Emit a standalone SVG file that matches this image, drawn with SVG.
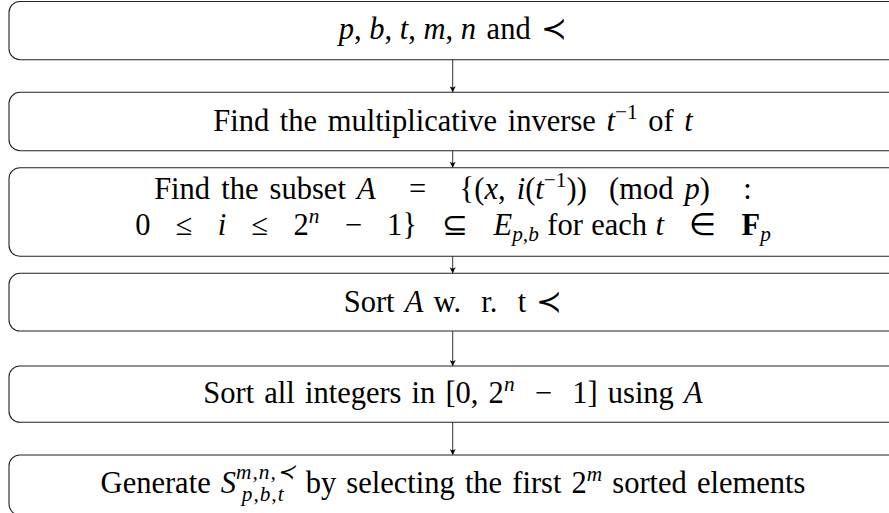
<svg xmlns="http://www.w3.org/2000/svg" width="889" height="513" viewBox="0 0 889 513">
<defs>
<marker id="ah" viewBox="0 0 10 10" refX="10" refY="5" markerWidth="6" markerHeight="6" markerUnits="userSpaceOnUse" orient="auto">
<path d="M0,0 L10,5 L0,10 L2.5,5 Z" fill="#000"/>
</marker>
<style>
.box{fill:#fff;stroke:#222;stroke-width:1.1}
.t{font-family:"Liberation Serif","Times New Roman",serif;font-size:30.5px;fill:#000;text-anchor:middle;white-space:pre}
.i{font-style:italic}
.b{font-weight:bold}
.s{font-size:21.3px}
.con{stroke:#333;stroke-width:1;fill:none}
</style>
</defs>
<rect width="889" height="513" fill="#fff"/>
<g id="connectors">
<line class="con" x1="452.7" y1="59.7" x2="452.7" y2="92.3" marker-end="url(#ah)"/>
<line class="con" x1="452.7" y1="150.7" x2="452.7" y2="167.7" marker-end="url(#ah)"/>
<line class="con" x1="452.7" y1="256.3" x2="452.7" y2="273.3" marker-end="url(#ah)"/>
<line class="con" x1="452.7" y1="331" x2="452.7" y2="366" marker-end="url(#ah)"/>
<line class="con" x1="452.7" y1="422.3" x2="452.7" y2="455" marker-end="url(#ah)"/>
</g>
<g id="n1">
<rect class="box" x="9" y="1.5" width="920" height="58.2" rx="11"/>
<text class="t" x="453" y="39"><tspan class="i">p</tspan>, <tspan class="i">b</tspan>, <tspan class="i">t</tspan>, <tspan class="i">m</tspan>, <tspan class="i">n</tspan><tspan style="word-spacing:3px"> and ≺</tspan></text>
</g>
<g id="n2">
<rect class="box" x="9" y="92.3" width="920" height="58.4" rx="11"/>
<text class="t" x="453" y="131" style="word-spacing:3px">Find the multiplicative inverse <tspan class="i">t</tspan><tspan class="s" dy="-12">−1</tspan><tspan dy="12"> of </tspan><tspan class="i">t</tspan></text>
</g>
<g id="n3">
<rect class="box" x="9" y="167.7" width="920" height="88.6" rx="11"/>
<text class="t" x="453" y="199" style="word-spacing:3.5px">Find the subset <tspan class="i">A</tspan>   =   {(<tspan class="i">x</tspan>, <tspan class="i">i</tspan>(<tspan class="i">t</tspan><tspan class="s" dy="-12">−1</tspan><tspan dy="12">))  (mod </tspan><tspan class="i">p</tspan>)   :</text>
<text class="t" x="453" y="235" style="word-spacing:0.8px">0   ≤   <tspan class="i">i</tspan>   ≤   2<tspan class="s i" dy="-12">n</tspan><tspan dy="12">   −   1}   ⊆   </tspan><tspan class="i">E</tspan><tspan class="s i" dy="6">p,b</tspan><tspan dy="-6"> for each </tspan><tspan class="i">t</tspan>   ∈   <tspan class="b">F</tspan><tspan class="s i" dy="6">p</tspan></text>
</g>
<g id="n4">
<rect class="box" x="9" y="273.3" width="920" height="57.7" rx="11"/>
<text class="t" x="453" y="312" style="word-spacing:2.5px">Sort <tspan class="i">A</tspan> w.  r.  t ≺</text>
</g>
<g id="n5">
<rect class="box" x="9" y="366" width="920" height="56.3" rx="11"/>
<text class="t" x="453" y="403" style="word-spacing:2.5px">Sort all integers in [0, 2<tspan class="s i" dy="-12">n</tspan><tspan dy="12">  −  1] using </tspan><tspan class="i">A</tspan></text>
</g>
<g id="n6">
<rect class="box" x="9" y="455" width="920" height="60" rx="11"/>
<text class="t" x="453" y="493" style="word-spacing:2.5px">Generate <tspan class="i">S</tspan><tspan class="s i" dy="-14" style="letter-spacing:1px">m,n,≺</tspan><tspan class="s i" dx="-54" dy="22" style="letter-spacing:1px">p,b,t</tspan><tspan dx="11" dy="-8"> by selecting the first 2</tspan><tspan class="s i" dy="-12">m</tspan><tspan dy="12"> sorted elements</tspan></text>
</g>
</svg>
